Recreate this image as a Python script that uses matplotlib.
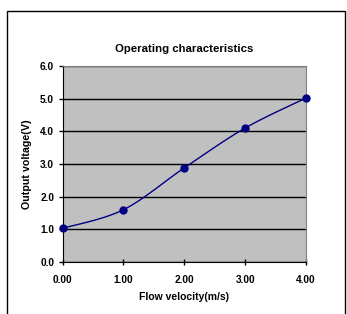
import numpy as np
import matplotlib
matplotlib.use("Agg")
from matplotlib import pyplot as plt
from matplotlib.patches import Rectangle

plt.rcParams['font.family'] = ['Liberation Sans', 'DejaVu Sans']

# data
velocity = [0.0, 1.0, 2.0, 3.0, 4.0]
voltage = [1.03, 1.6, 2.88, 4.1, 5.02]
xticks = [0, 1, 2, 3, 4]
yticks = [0, 1, 2, 3, 4, 5, 6]


def smooth(x, y, n=30):
    # Excel-like smoothed line: cubic bezier with catmull-rom control points
    x = np.asarray(x, float)
    y = np.asarray(y, float)
    px = np.concatenate([[x[0]], x, [x[-1]]])
    py = np.concatenate([[y[0]], y, [y[-1]]])
    ox, oy = [], []
    t = np.linspace(0, 1, n)
    for i in range(1, len(px) - 2):
        p0 = np.array([px[i], py[i]])
        p3 = np.array([px[i + 1], py[i + 1]])
        p1 = p0 + (np.array([px[i + 1], py[i + 1]]) - np.array([px[i - 1], py[i - 1]])) / 6
        p2 = p3 - (np.array([px[i + 2], py[i + 2]]) - np.array([px[i], py[i]])) / 6
        b = ((1 - t) ** 3)[:, None] * p0 + (3 * (1 - t) ** 2 * t)[:, None] * p1 \
            + (3 * (1 - t) * t ** 2)[:, None] * p2 + (t ** 3)[:, None] * p3
        ox.extend(b[:, 0])
        oy.extend(b[:, 1])
    return ox, oy


fig = plt.figure(figsize=(3.47, 3.14), dpi=100)
fig.patches.append(Rectangle((7 / 347, -0.2), 338 / 347, 0.2 + 1 - 11 / 314,
                             transform=fig.transFigure, fill=False,
                             edgecolor='black', linewidth=1))

ax = fig.add_axes([62.5 / 347, 1 - 262 / 314, (306 - 62.5) / 347, (262 - 66) / 314])
ax.set_facecolor('#C0C0C0')

sx, sy = smooth(velocity, voltage)
ax.plot(sx, sy, color='#000080', linewidth=1, zorder=3)
ax.plot(velocity, voltage, 'o', color='#000080', markersize=5, zorder=4, clip_on=False)

ax.set_xlim(0, 4)
ax.set_ylim(0, 6)
ax.set_xticks(xticks)
ax.set_yticks(yticks)
ax.set_xticklabels(['%.2f' % v for v in xticks], fontsize=7.3, fontweight='bold')
ax.set_yticklabels(['%.1f' % v for v in yticks], fontsize=7.3, fontweight='bold')
ax.tick_params(axis='x', direction='inout', length=5, width=1, pad=7)
ax.tick_params(axis='y', direction='out', length=3, width=1, pad=3)
ax.grid(axis='y', color='black', linewidth=1)
ax.set_axisbelow(True)

for s in ['top', 'right']:
    ax.spines[s].set_color('#808080')
for s in ['left', 'bottom']:
    ax.spines[s].set_color('black')

ax.set_title('Operating characteristics', fontsize=8.2, fontweight='bold', pad=10)
ax.set_xlabel('Flow velocity(m/s)', fontsize=7.5, fontweight='bold', labelpad=5)
ax.set_ylabel('Output voltage(V)', fontsize=7.7, fontweight='bold', labelpad=6)

plt.savefig('out.png', dpi=100)
